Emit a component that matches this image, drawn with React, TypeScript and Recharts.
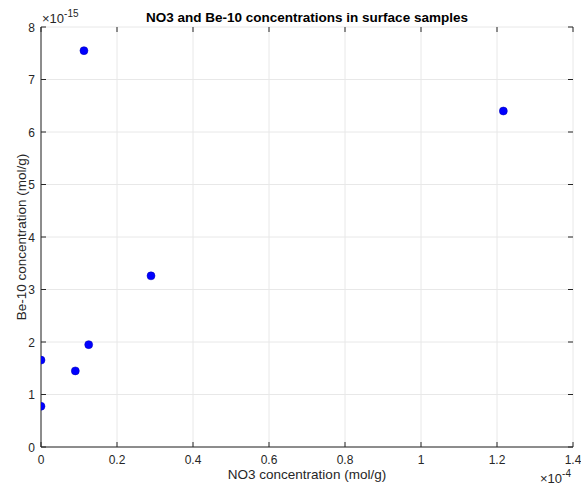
import React from 'react';
import { ScatterChart, Scatter, XAxis, YAxis, CartesianGrid, Label } from 'recharts';

const no3Values = [0, 0, 0.0903, 0.1255, 0.113, 0.2895, 1.2167];
const be10Values = [0.775, 1.655, 1.45, 1.95, 7.55, 3.26, 6.40];
const xTicks = [0, 0.2, 0.4, 0.6, 0.8, 1, 1.2, 1.4];
const yTicks = [0, 1, 2, 3, 4, 5, 6, 7, 8];

const data = no3Values.map((x, i) => ({ x, y: be10Values[i] }));

const FONT = '"Liberation Sans", Arial, Helvetica, sans-serif';
const TXT = '#262626';
const AX = '#262626';

const fmt = (v: number) => String(v);

const XTick = (props: any) => {
  const { x, y, payload } = props;
  return (
    <g>
      <line x1={x} y1={y} x2={x} y2={y - 5} stroke={AX} strokeWidth={1} />
      <line x1={x} y1={27} x2={x} y2={32} stroke={AX} strokeWidth={1} />
      <text x={x} y={y + 17} textAnchor="middle" fontFamily={FONT} fontSize={12} fill={TXT}>
        {fmt(payload.value)}
      </text>
    </g>
  );
};

const YTick = (props: any) => {
  const { x, y, payload } = props;
  return (
    <g>
      <line x1={x} y1={y} x2={x + 5} y2={y} stroke={AX} strokeWidth={1} />
      <line x1={573} y1={y} x2={568} y2={y} stroke={AX} strokeWidth={1} />
      <text x={x - 6} y={y + 4.5} textAnchor="end" fontFamily={FONT} fontSize={12} fill={TXT}>
        {fmt(payload.value)}
      </text>
    </g>
  );
};

const XLabel = (props: any) => {
  const vb = props.viewBox || {};
  const cx = vb.x + vb.width / 2;
  return (
    <g>
      <text x={cx} y={479} textAnchor="middle" fontFamily={FONT} fontSize={13.5} fill={TXT}>
        NO3 concentration (mol/g)
      </text>
      <text x={vb.x + vb.width - 33} y={483} fontFamily={FONT} fontSize={13} fill={TXT}>
        <tspan>×10</tspan>
        <tspan dy={-6} fontSize={10}>-4</tspan>
      </text>
      <text x={cx} y={22} textAnchor="middle" fontFamily={FONT} fontSize={13.5} fontWeight="bold" fill="#000">
        NO3 and Be-10 concentrations in surface samples
      </text>
    </g>
  );
};

const YLabel = (props: any) => {
  const vb = props.viewBox || {};
  const cy = vb.y + vb.height / 2;
  return (
    <g>
      <text
        x={26}
        y={cy}
        textAnchor="middle"
        fontFamily={FONT}
        fontSize={13.5}
        fill={TXT}
        transform={`rotate(-90 26 ${cy})`}
      >
        Be-10 concentration (mol/g)
      </text>
      <text x={42} y={23} fontFamily={FONT} fontSize={13} fill={TXT}>
        <tspan>×10</tspan>
        <tspan dy={-6} fontSize={10}>-15</tspan>
      </text>
    </g>
  );
};

export default function App() {
  return (
    <div style={{ position: 'absolute', left: 0, top: 0, width: 581, height: 487, background: '#fff' }}>
      <ScatterChart width={581} height={487} margin={{ top: 27, right: 8, bottom: 0, left: 0 }}>
        <CartesianGrid stroke="#e8e8e8" strokeWidth={1} />
        <XAxis
          type="number"
          dataKey="x"
          domain={[0, 1.4]}
          ticks={xTicks}
          interval={0}
          height={40}
          tickSize={0}
          tickMargin={0}
          tickLine={false}
          axisLine={{ stroke: AX }}
          tick={<XTick />}
          allowDataOverflow
        >
          <Label content={<XLabel />} />
        </XAxis>
        <XAxis
          xAxisId="top"
          orientation="top"
          type="number"
          domain={[0, 1.4]}
          ticks={xTicks}
          height={0}
          tick={false}
          tickLine={false}
          axisLine={{ stroke: AX }}
        />
        <YAxis
          type="number"
          dataKey="y"
          domain={[0, 8]}
          ticks={yTicks}
          interval={0}
          width={41}
          tickSize={0}
          tickMargin={0}
          tickLine={false}
          axisLine={{ stroke: AX }}
          tick={<YTick />}
          allowDataOverflow
        >
          <Label content={<YLabel />} />
        </YAxis>
        <YAxis
          yAxisId="right"
          orientation="right"
          type="number"
          domain={[0, 8]}
          width={0}
          tick={false}
          tickLine={false}
          axisLine={{ stroke: AX }}
        />
        <Scatter
          data={data}
          fill="#0000ff"
          stroke="#0000b0"
          strokeWidth={0.5}
          isAnimationActive={false}
          shape={(p: any) => <circle cx={p.cx} cy={p.cy} r={4} fill="#0000ff" stroke="#0000b0" strokeWidth={0.5} />}
        />
      </ScatterChart>
    </div>
  );
}
